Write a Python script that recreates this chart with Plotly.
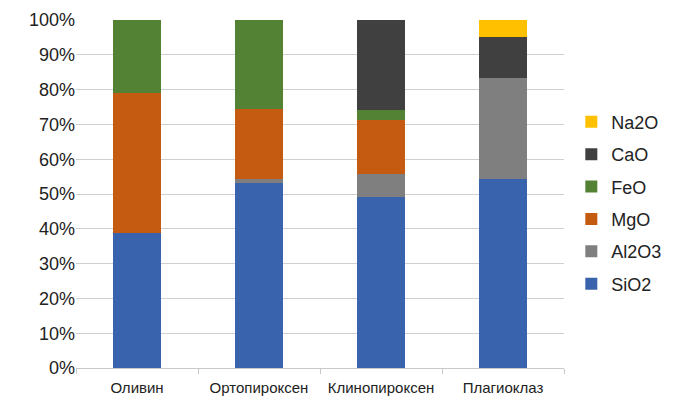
import plotly.graph_objects as go

# Минералы и оксидный состав (%)
MINERALS = ["Оливин", "Ортопироксен", "Клинопироксен", "Плагиоклаз"]
SIO2 = [38.7, 53.3, 49.0, 54.3]
AL2O3 = [0.0, 1.0, 6.7, 28.9]
MGO = [40.2, 20.1, 15.5, 0.0]
FEO = [21.1, 25.6, 2.8, 0.0]
CAO = [0.0, 0.0, 26.0, 12.0]
NA2O = [0.0, 0.0, 0.0, 4.8]

SERIES = [
    ("SiO2", SIO2, "#3A63AD"),
    ("Al2O3", AL2O3, "#7F7F7F"),
    ("MgO", MGO, "#C55A11"),
    ("FeO", FEO, "#548235"),
    ("CaO", CAO, "#404040"),
    ("Na2O", NA2O, "#FFC000"),
]

fig = go.Figure()
for i, (name, vals, color) in enumerate(SERIES):
    fig.add_trace(go.Bar(
        x=MINERALS,
        y=vals,
        name=name,
        legendgroup=name,
        legendrank=len(SERIES) - i,  # легенда сверху вниз: Na2O ... SiO2
        marker=dict(color=color, line_width=0),
    ))

# страница имеет отступ 8px, поэтому размер и поля уменьшены на 8
fig.update_layout(
    barmode="stack",
    barnorm="percent",
    bargap=0.6,
    width=670,
    height=398,
    margin=dict(l=68, r=114, t=12, b=38, autoexpand=False),
    plot_bgcolor="white",
    paper_bgcolor="white",
    font=dict(family="Liberation Sans, Arial, sans-serif", color="#222222"),
    legend=dict(
        traceorder="grouped",
        x=1.015, xanchor="left",
        y=0.474, yanchor="middle",
        font=dict(size=18, color="#222222"),
        tracegroupgap=6,
        itemwidth=30,
    ),
)
fig.update_yaxes(
    range=[0, 100],
    dtick=10,
    ticksuffix="%",
    showgrid=True,
    gridcolor="#D0D0D0",
    gridwidth=1,
    zeroline=False,
    tickfont=dict(size=18, color="#222222"),
    ticks="",
)
fig.update_xaxes(
    showline=True,
    linecolor="#C8C8C8",
    tickson="boundaries",
    ticks="outside",
    ticklen=5,
    tickcolor="#C8C8C8",
    ticklabelstandoff=6,
    tickfont=dict(size=15, color="#222222"),
)

fig.write_html("out.html")
